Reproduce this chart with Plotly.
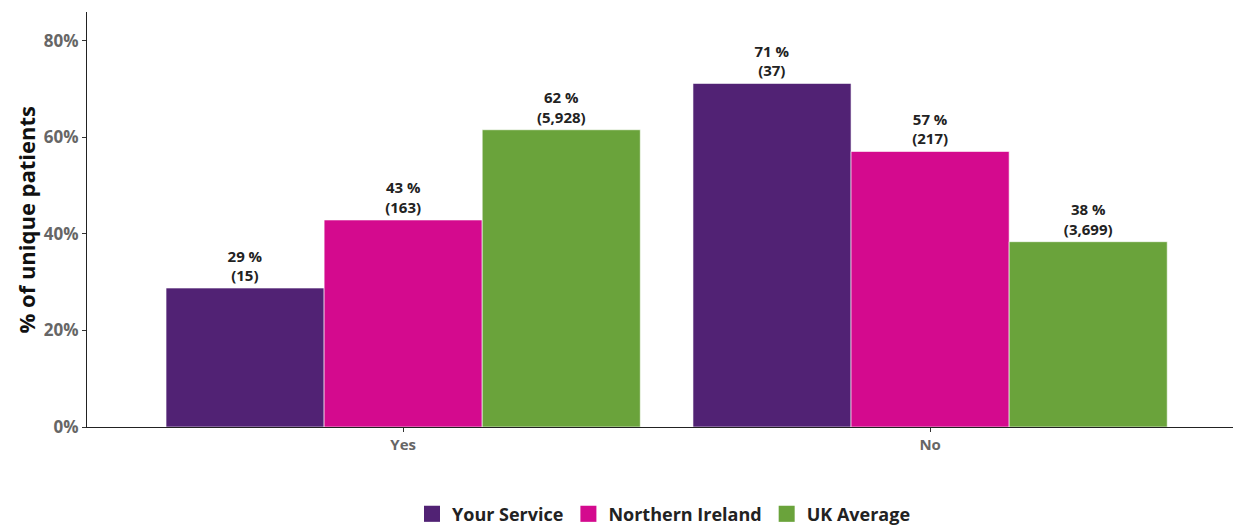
import plotly.graph_objects as go

categories = ["Yes", "No"]
series_names = ["Your Service", "Northern Ireland", "UK Average"]
your_service_pct = [28.8, 71.2]
northern_ireland_pct = [42.9, 57.1]
uk_average_pct = [61.6, 38.4]
your_service_n = [15, 37]
northern_ireland_n = [163, 217]
uk_average_n = [5928, 3699]
colors = ["#512274", "#d40a8e", "#6aa33b"]
y_ticks = [0, 20, 40, 60, 80]
y_tick_labels = ["0%", "20%", "40%", "60%", "80%"]

FONT = "Open Sans"
# page body has an 8px margin; the figure is sized to compensate
fig = go.Figure()
for name, pct, n, col in zip(series_names,
                             [your_service_pct, northern_ireland_pct, uk_average_pct],
                             [your_service_n, northern_ireland_n, uk_average_n],
                             colors):
    labels = [f"<b>{round(p)} %<br>({c:,})</b>" for p, c in zip(pct, n)]
    fig.add_trace(go.Bar(
        x=categories, y=pct, name=name, showlegend=False,
        marker=dict(color=col, line=dict(color="white", width=0.6)),
        text=labels, textposition="outside", cliponaxis=False,
        textfont=dict(family=FONT, size=15, color="#222222"),
        hoverinfo="skip",
    ))
    # legend entry with a larger square swatch
    fig.add_trace(go.Scatter(
        x=[None], y=[None], mode="markers", name=name, showlegend=True,
        marker=dict(symbol="square", size=22, color=col), hoverinfo="skip",
    ))

fig.update_layout(
    width=1233, height=519,
    margin=dict(l=79, r=0, t=4, b=100, autoexpand=False),
    paper_bgcolor="white", plot_bgcolor="white",
    barmode="group", bargap=0.1, bargroupgap=0,
    font=dict(family=FONT),
    showlegend=True,
    legend=dict(orientation="h", x=0.5, xanchor="center", y=-0.21, yanchor="middle",
                font=dict(family=FONT, size=18, color="#222222", weight="bold"),
                itemsizing="trace", itemwidth=30, traceorder="normal"),
    annotations=[dict(text="<b>% of unique patients</b>", xref="paper", yref="paper",
                      x=-62 / 1154, y=0.5, xanchor="center", yanchor="middle",
                      textangle=-90, showarrow=False,
                      font=dict(family=FONT, size=22, color="#111111"))],
)
fig.update_xaxes(
    type="category", range=[-0.6, 1.59], automargin=False,
    showline=True, linecolor="#222222", linewidth=1.2,
    ticks="outside", ticklen=4, tickcolor="#333333",
    tickfont=dict(family=FONT, size=15, color="#666666", weight="bold"),
    showgrid=False, zeroline=False,
)
fig.update_yaxes(
    range=[0, 86], tickvals=y_ticks, ticktext=y_tick_labels, automargin=False,
    showline=True, linecolor="#222222", linewidth=1.2,
    ticks="outside", ticklen=4, tickcolor="#333333",
    tickfont=dict(family=FONT, size=17, color="#666666", weight="bold"),
    showgrid=False, zeroline=False,
)
fig.write_html("out.html")
